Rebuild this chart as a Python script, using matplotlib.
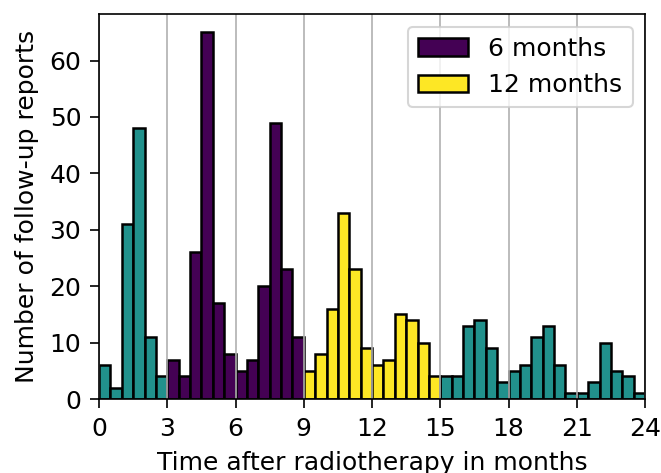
import numpy as np
import matplotlib
matplotlib.use("Agg")
import matplotlib.pyplot as plt

# follow-up report counts per half-month bin, 0 to 24 months
bin_edges = np.arange(0, 24.5, 0.5)
counts = [6, 2, 31, 48, 11, 4,
          7, 4, 26, 65, 17, 8,
          5, 7, 20, 49, 23, 11,
          5, 8, 16, 33, 23, 9,
          6, 7, 15, 14, 10, 4,
          4, 4, 13, 14, 9, 3,
          5, 6, 11, 13, 6, 1,
          1, 3, 10, 5, 4, 1]

# windows counted as the 6 and 12 month follow-up
window_6m = (3, 9)
window_12m = (9, 15)

teal = "#21918c"
purple = "#440154"
yellow = "#fde725"

left = bin_edges[:-1]
counts = np.array(counts)
in6 = (left >= window_6m[0]) & (left < window_6m[1])
in12 = (left >= window_12m[0]) & (left < window_12m[1])
other = ~(in6 | in12)

plt.rcParams["font.size"] = 12

fig = plt.figure(figsize=(661 / 150, 473 / 150), dpi=150)
ax = fig.add_axes([0.1498, 0.1564, 0.826, 0.814])

kw = dict(width=0.5, align="edge", edgecolor="black", linewidth=1.2)
ax.bar(left[other], counts[other], color=teal, **kw)
ax.bar(left[in6], counts[in6], color=purple, label="6 months", **kw)
ax.bar(left[in12], counts[in12], color=yellow, label="12 months", **kw)

ax.set_xlim(0, 24)
ax.set_xticks(np.arange(0, 25, 3))
ax.grid(axis="x")
ax.tick_params(length=4.3, pad=4.2)
ax.set_xlabel("Time after radiotherapy in months", labelpad=5)
ax.set_ylabel("Number of follow-up reports", labelpad=5)
ax.legend(loc="upper right")

fig.savefig("out.png", dpi=150)
